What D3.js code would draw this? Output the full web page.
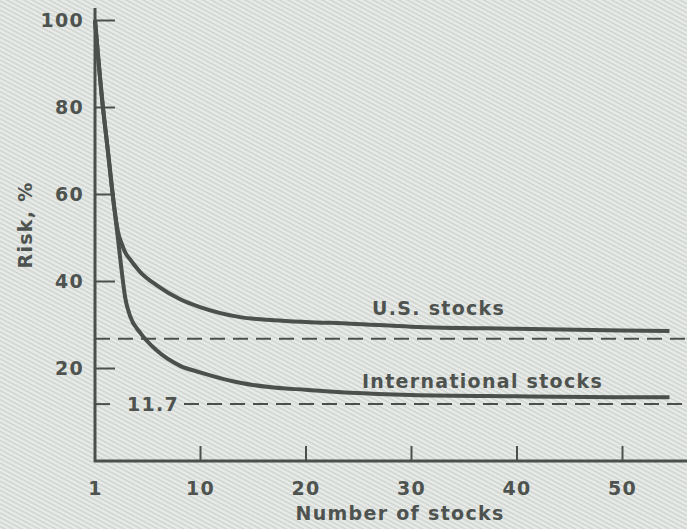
<!DOCTYPE html>
<html>
<head>
<meta charset="utf-8">
<script src="https://cdn.jsdelivr.net/npm/d3@7"></script>
<style>
  body { margin: 0; background: #e4e7e3; }
  svg { display: block; }
  text { font-family: "DejaVu Sans", sans-serif; font-weight: bold; fill: #4e5350; font-size: 19px; letter-spacing: 1.3px; }
</style>
</head>
<body>
<svg id="chart" width="687" height="529"></svg>
<script>
// number of stocks in the portfolio
var nStocks = [1, 1.6, 2.1, 2.6, 3, 3.3, 3.6, 4, 4.9, 6.3, 8.3, 10, 13.8, 17, 20, 24.3, 30, 40, 50, 54.5];
// risk in % of a single stock's risk
var usRisk   = [100, 82, 70, 58, 51, 48.5, 46.5, 45, 42, 39, 35.8, 34, 31.7, 31, 30.6, 30.2, 29.5, 29, 28.6, 28.5];
var intlRisk = [100, 82, 70, 58, 49, 42, 36, 32, 28, 24, 20.5, 19, 16.6, 15.5, 15, 14.3, 13.8, 13.5, 13.3, 13.3];

var xTicks = [1, 10, 20, 30, 40, 50];
var yTicks = [20, 40, 60, 80, 100];
var usFloor = 26.7;
var intlFloor = 11.7;

var ink = "#4b504d";
var svg = d3.select("#chart");

// scan texture
var defs = svg.append("defs");
var pat = defs.append("pattern")
    .attr("id", "stripes")
    .attr("width", 4).attr("height", 4)
    .attr("patternUnits", "userSpaceOnUse")
    .attr("patternTransform", "rotate(28)");
pat.append("rect").attr("width", 4).attr("height", 4).attr("fill", "#e8ebe7");
pat.append("rect").attr("width", 4).attr("height", 1.6).attr("fill", "#d0d4d0");
svg.append("rect").attr("width", 687).attr("height", 529).attr("fill", "url(#stripes)");

var x = d3.scaleLinear().domain([1, 10, 50]).range([95, 200, 622]);
var y = d3.scaleLinear().domain([0, 100]).range([455, 20]);
var axisY = 461;

// dashed floors
svg.append("line")
    .attr("x1", 95).attr("x2", 687)
    .attr("y1", y(usFloor)).attr("y2", y(usFloor))
    .attr("stroke", ink).attr("stroke-width", 2)
    .attr("stroke-dasharray", "15,8");
svg.append("line")
    .attr("x1", 184).attr("x2", 687)
    .attr("y1", y(intlFloor)).attr("y2", y(intlFloor))
    .attr("stroke", ink).attr("stroke-width", 2)
    .attr("stroke-dasharray", "15,8");

// y axis
var yAxis = d3.axisLeft(y).tickValues(yTicks).tickSize(-20).tickPadding(11);
let gy = svg.append("g").attr("transform", "translate(95,0)").call(yAxis);
gy.attr("font-size", null).attr("font-family", null);
gy.select(".domain").remove();
gy.selectAll(".tick line").attr("stroke", ink).attr("stroke-width", 2);
gy.selectAll(".tick text").attr("fill", ink);
svg.append("line").attr("x1", 95).attr("x2", 95).attr("y1", 8).attr("y2", axisY + 1)
    .attr("stroke", ink).attr("stroke-width", 3);

// 11.7 mark
svg.append("line").attr("x1", 95).attr("x2", 110)
    .attr("y1", y(intlFloor)).attr("y2", y(intlFloor))
    .attr("stroke", ink).attr("stroke-width", 2);
svg.append("text").attr("x", 127).attr("y", y(intlFloor)).attr("dy", "0.38em").text(intlFloor);

// x axis
var xAxis = d3.axisBottom(x).tickValues(xTicks).tickSize(0).tickPadding(21);
let gx = svg.append("g").attr("transform", "translate(0," + axisY + ")").call(xAxis);
gx.attr("font-size", null).attr("font-family", null);
gx.select(".domain").remove();
gx.selectAll(".tick text").attr("fill", ink);
gx.selectAll(".tick").filter(function(d){ return d != 1 })
    .append("line").attr("y1", 0).attr("y2", -15).attr("stroke", ink).attr("stroke-width", 2);
svg.append("line").attr("x1", 94).attr("x2", 687).attr("y1", axisY).attr("y2", axisY)
    .attr("stroke", ink).attr("stroke-width", 3);

// curves
var line = d3.line()
    .x(function(d){ return x(d[0]) })
    .y(function(d){ return y(d[1]) })
    .curve(d3.curveMonotoneX);

[usRisk, intlRisk].forEach(function(series){
    svg.append("path")
        .datum(nStocks.map(function(n, i){ return [n, series[i]] }))
        .attr("d", line)
        .attr("fill", "none")
        .attr("stroke", ink)
        .attr("stroke-width", 4);
});

// labels
svg.append("text").attr("x", 372).attr("y", 315).text("U.S. stocks");
svg.append("text").attr("x", 362).attr("y", 388).text("International stocks");
svg.append("text").attr("x", 400).attr("y", 520).attr("text-anchor", "middle").text("Number of stocks");
svg.append("text").attr("transform", "translate(32,225) rotate(-90)").attr("text-anchor", "middle").text("Risk, %");
</script>
</body>
</html>
